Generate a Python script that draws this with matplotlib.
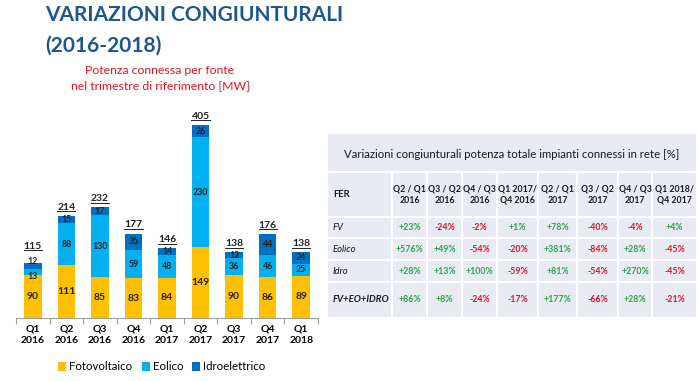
import matplotlib
matplotlib.use('Agg')
import matplotlib.pyplot as plt
from matplotlib.patches import Rectangle
from matplotlib.lines import Line2D

plt.rcParams['font.family'] = ['Lato', 'DejaVu Sans']

# --- dati grafico ---
trimestri = ['Q1\n2016', 'Q2\n2016', 'Q3\n2016', 'Q4\n2016', 'Q1\n2017',
             'Q2\n2017', 'Q3\n2017', 'Q4\n2017', 'Q1\n2018']
fotovoltaico = [90, 111, 85, 83, 84, 149, 90, 86, 89]
eolico = [13, 88, 130, 59, 48, 230, 36, 46, 25]
idroelettrico = [12, 15, 17, 35, 14, 26, 12, 44, 24]
totali = [115, 214, 232, 177, 146, 405, 138, 176, 138]

# --- dati tabella ---
intestazioni = ['FER', 'Q2 / Q1\n2016', 'Q3 / Q2\n2016', 'Q4 / Q3\n2016', 'Q1 2017/\nQ4 2016',
                'Q2 / Q1\n2017', 'Q3 / Q2\n2017', 'Q4 / Q3\n2017', 'Q1 2018/\nQ4 2017']
fonti = ['FV', 'Eolico', 'Idro', 'FV+EO+IDRO']
var_fv = [23, -24, -2, 1, 78, -40, -4, 4]
var_eolico = [576, 49, -54, -20, 381, -84, 28, -45]
var_idro = [28, 13, 100, -59, 81, -54, 270, -45]
var_totale = [86, 8, -24, -17, 177, -66, 28, -21]

col_giallo = '#FFC000'
col_azzurro = '#00B0F0'
col_blu = '#0070C0'

W, H = 698, 381
fig = plt.figure(figsize=(W / 100, H / 100), dpi=100)

# titoli
fig.text(45 / W, 1 - 5 / H, 'VARIAZIONI CONGIUNTURALI', color='#1C5690',
         fontsize=15, fontweight='bold', va='top', ha='left')
fig.text(45 / W, 1 - 36 / H, '(2016-2018)', color='#1C5690',
         fontsize=15, fontweight='bold', va='top', ha='left')
fig.text(160 / W, 1 - 78 / H, 'Potenza connessa per fonte\nnel trimestre di riferimento [MW]',
         color='#E3141E', fontsize=8.8, ha='center', va='center', linespacing=1.4)

# --- grafico a barre impilate ---
ax = fig.add_axes([16 / W, (H - 318) / H, 302 / W, 218 / H])
x = list(range(len(trimestri)))
w = 0.52
ax.bar(x, fotovoltaico, w, color=col_giallo, label='Fotovoltaico')
base2 = fotovoltaico
ax.bar(x, eolico, w, bottom=base2, color=col_azzurro, label='Eolico')
base3 = [a + b for a, b in zip(fotovoltaico, eolico)]
ax.bar(x, idroelettrico, w, bottom=base3, color=col_blu, label='Idroelettrico')

etichette_tot = []
for i in x:
    ax.text(i, fotovoltaico[i] / 2, str(fotovoltaico[i]), ha='center', va='center',
            fontsize=7.5, fontweight='bold', color='#222222')
    # segmenti molto piccoli: etichette leggermente distanziate
    scarto = 3 if eolico[i] < 20 else 0
    ax.annotate(str(eolico[i]), (i, base2[i] + eolico[i] / 2), xytext=(0, -scarto),
                textcoords='offset points', ha='center', va='center',
                fontsize=6.3, fontweight='bold', color='#222222')
    ax.annotate(str(idroelettrico[i]), (i, base3[i] + idroelettrico[i] / 2), xytext=(0, scarto),
                textcoords='offset points', ha='center', va='center',
                fontsize=6.3, fontweight='bold', color='#222222')
    t = ax.annotate(str(totali[i]), (i, base3[i] + idroelettrico[i]), xytext=(0, 3 + 2 * scarto),
                    textcoords='offset points', ha='center', va='bottom',
                    fontsize=7.5, fontweight='bold', color='#222222')
    etichette_tot.append(t)

ax.set_xlim(-0.5, len(x) - 0.5)
ax.set_ylim(0, 457)
ax.set_xticks(x)
ax.set_xticklabels(trimestri, fontsize=7.5, fontweight='bold', linespacing=1.3)
ax.set_xticks([i - 0.5 for i in range(len(x) + 1)], minor=True)
ax.tick_params(axis='x', which='major', length=0, pad=5)
ax.tick_params(axis='x', which='minor', length=4, color='#A0A0A0', width=0.8)
ax.set_yticks([])
for s in ['top', 'right', 'left']:
    ax.spines[s].set_visible(False)
ax.spines['bottom'].set_color('#A0A0A0')
ax.spines['bottom'].set_linewidth(0.8)

fig.legend(loc='center', bbox_to_anchor=(162 / W, 1 - 367 / H), ncol=3, frameon=False,
           fontsize=8.3, handlelength=0.7, handleheight=0.7, handletextpad=0.25,
           columnspacing=0.8, borderaxespad=0)

# sottolineatura dei totali
renderer = fig.canvas.get_renderer()
for t in etichette_tot:
    bb = t.get_window_extent(renderer)
    yy = (bb.y0 + 0.5) / fig.dpi
    fig.add_artist(Line2D([bb.x0 / fig.dpi, bb.x1 / fig.dpi], [yy, yy],
                          transform=fig.dpi_scale_trans, color='#222222', lw=0.7))

# --- tabella ---
tx0, ty0, tw, th = 327, 133, 370, 185
tax = fig.add_axes([tx0 / W, (H - ty0 - th) / H, tw / W, th / H])
tax.set_xlim(0, tw)
tax.set_ylim(th, 0)
tax.axis('off')

bordi_col = [0, 65, 100, 135, 170, 211, 250, 291, 325, 370]
bordi_rig = [0, 39, 84, 105, 127, 149, 185]
sfondo = '#E8EBF1'
verde = '#2AA24C'
rosso = '#E5102A'

# riga titolo
tax.add_patch(Rectangle((0, 0), tw, bordi_rig[1], facecolor=sfondo, edgecolor='white', lw=1.5))
tax.text(tw / 2, bordi_rig[1] / 2 + 2, 'Variazioni congiunturali potenza totale impianti connessi in rete [%]',
         ha='center', va='center', fontsize=8.2, color='#1a1a1a')

valori = [var_fv, var_eolico, var_idro, var_totale]
for r in range(5):
    y0 = bordi_rig[r + 1]
    y1 = bordi_rig[r + 2]
    yc = (y0 + y1) / 2
    for c in range(9):
        xa = bordi_col[c]
        xb = bordi_col[c + 1]
        tax.add_patch(Rectangle((xa, y0), xb - xa, y1 - y0, facecolor=sfondo,
                                edgecolor='white', lw=1.5))
        if r == 0:
            if c == 0:
                tax.text(xa + 6, yc, intestazioni[c], ha='left', va='center',
                         fontsize=6.8, fontweight='bold', color='#1a1a1a')
            else:
                tax.text((xa + xb) / 2, yc, intestazioni[c], ha='center', va='center',
                         fontsize=6.3, fontweight='bold', color='#1a1a1a', linespacing=1.4)
        else:
            if c == 0:
                peso = 'bold' if r == 4 else 'normal'
                tax.text(xa + 6, yc, fonti[r - 1], ha='left', va='center', fontsize=6.8,
                         style='italic', fontweight=peso, color='#1a1a1a')
            else:
                v = valori[r - 1][c - 1]
                tax.text((xa + xb) / 2, yc, f'{v:+d}%', ha='center', va='center',
                         fontsize=6.3, fontweight='bold', color=verde if v > 0 else rosso)

fig.savefig('out.png', dpi=100)
